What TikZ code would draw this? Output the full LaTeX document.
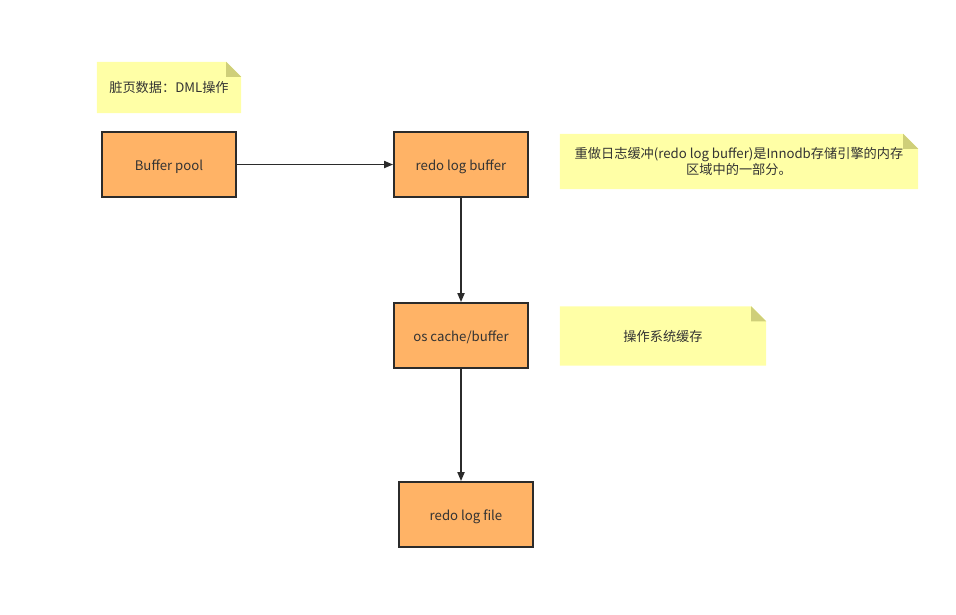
\documentclass[tikz,border=0pt]{standalone}
\usepackage{fontspec}
\setmainfont{Noto Sans CJK SC}
\usetikzlibrary{arrows.meta}
\pgfdeclarelayer{background}
\pgfsetlayers{background,main}
\definecolor{boxfill}{HTML}{FFB366}
\definecolor{boxline}{HTML}{2B2B2B}
\definecolor{notefill}{HTML}{FFFFA6}
\definecolor{notefold}{HTML}{CFCF79}
\definecolor{txt}{HTML}{333333}
\tikzset{
  box/.style={draw=boxline, fill=boxfill, line width=1.8pt, minimum width=134pt, minimum height=65pt, inner sep=0pt, text=txt, text height=12pt, text depth=0.5pt, font=\fontsize{13.2}{15}\selectfont},
  notebox/.style={inner sep=0pt, text=txt, align=center, font=\fontsize{13.2}{15.5}\selectfont},
  conn/.style={draw=boxline, line width=1.8pt, -{Triangle[length=9pt,width=7pt]}},
}
\newcommand{\notebg}[1]{%
  \begin{pgfonlayer}{background}
    \fill[notefill] (#1.north west) -- ([xshift=-15pt]#1.north east) -- ([yshift=-15pt]#1.north east) -- (#1.south east) -- (#1.south west) -- cycle;
    \fill[notefold] ([xshift=-15pt]#1.north east) -- ([yshift=-15pt]#1.north east) -- ([xshift=-15pt,yshift=-15pt]#1.north east) -- cycle;
  \end{pgfonlayer}}
\begin{document}
\begin{tikzpicture}[x=1pt,y=-1pt]
\useasboundingbox (0,0) rectangle (956,614);
% notes
\node[notebox, minimum width=144pt, minimum height=51pt] (n1) at (169,87.5) {脏页数据：DML操作};
\notebg{n1}
\node[notebox, minimum width=358pt, minimum height=55pt] (n2) at (739,161.5) {重做日志缓冲(redo log buffer)是Innodb存储引擎的内存\\区域中的一部分。};
\notebg{n2}
\node[notebox, minimum width=206pt, minimum height=59pt] (n3) at (663,336) {操作系统缓存};
\notebg{n3}
% boxes
\node[box] (bp) at (169,164.5) {Buffer pool};
\node[box] (rlb) at (461,164.5) {redo log buffer};
\node[box] (os) at (461,335.5) {os cache/buffer};
\node[box] (rlf) at (466,514.5) {redo log file};
% connectors
\draw[conn] (bp.east) -- (rlb.west);
\draw[conn] (rlb.south) -- (os.north);
\draw[conn] (os.south) -- (os.south |- rlf.north);
\end{tikzpicture}
\end{document}
